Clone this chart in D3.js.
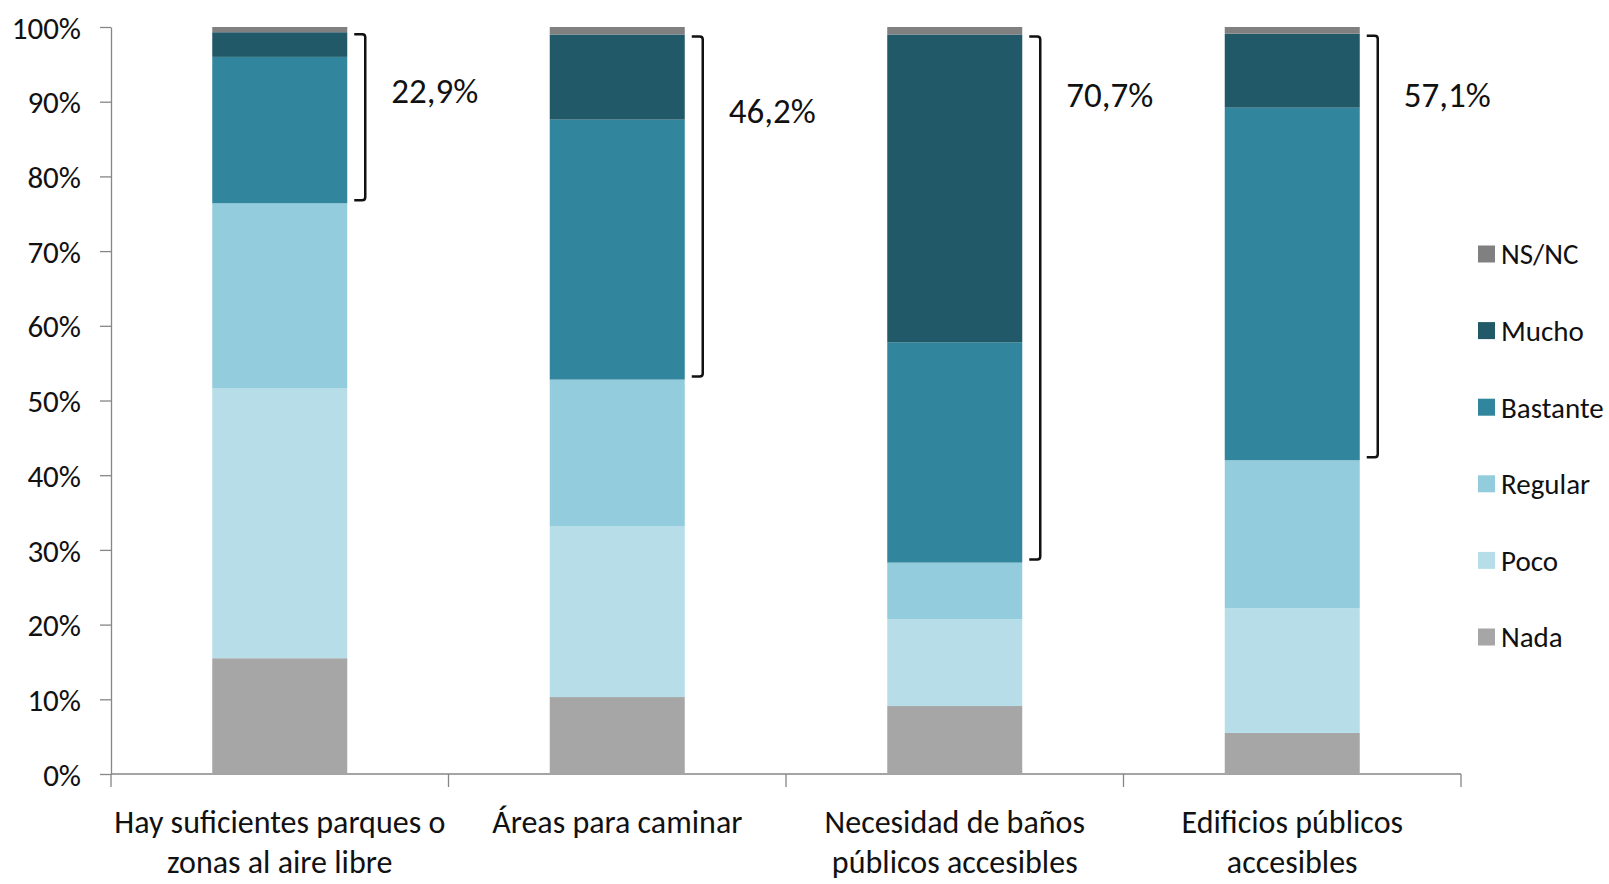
<!DOCTYPE html>
<html>
<head>
<meta charset="utf-8">
<script src="https://cdn.jsdelivr.net/npm/d3@7"></script>
<style>
  body { margin: 0; background: #fff; }
  text { font-family: Carlito, Lato, sans-serif; fill: #111; }
</style>
</head>
<body>
<div id="plot_area"></div>
<script>
// data (percent of answers)
var categories = [
  ["Hay suficientes parques o", "zonas al aire libre"],
  ["Áreas para caminar"],
  ["Necesidad de baños", "públicos accesibles"],
  ["Edificios públicos", "accesibles"]
];
var series = ["Nada", "Poco", "Regular", "Bastante", "Mucho", "NS/NC"];
var nada     = [15.5, 10.3,  9.1,  5.5];
var poco     = [36.1, 22.9, 11.6, 16.7];
var regular  = [24.8, 19.6,  7.6, 19.8];
var bastante = [19.6, 34.8, 29.5, 47.2];
var mucho    = [ 3.3, 11.4, 41.2,  9.9];
var nsnc     = [ 0.7,  1.0,  1.0,  0.9];
var calloutLabels = ["22,9%", "46,2%", "70,7%", "57,1%"];
var yTicks = [0, 10, 20, 30, 40, 50, 60, 70, 80, 90, 100];

var colors = {
  "Nada": "#a6a6a6", "Poco": "#b7dee8", "Regular": "#93cddd",
  "Bastante": "#31859c", "Mucho": "#215968", "NS/NC": "#808080"
};

// build rows for the stack
var rows = categories.map(function(c, i) {
  return { idx: i, "Nada": nada[i], "Poco": poco[i], "Regular": regular[i],
           "Bastante": bastante[i], "Mucho": mucho[i], "NS/NC": nsnc[i] };
});
var stacked = d3.stack().keys(series)(rows);

// set the dimensions and margins of the graph
var margin = {top: 27, right: 148, bottom: 110, left: 111},
    W = 1609, H = 884,
    width = W - margin.left - margin.right,
    height = H - margin.top - margin.bottom;

var svg = d3.select("#plot_area")
  .append("svg")
    .attr("width", W)
    .attr("height", H)
  .append("g")
    .attr("transform", "translate(" + margin.left + "," + margin.top + ")");

var x = d3.scaleBand()
  .domain(d3.range(categories.length))
  .range([0, width])
  .paddingInner(0.6)
  .paddingOuter(0.3);

var y = d3.scaleLinear()
  .domain([0, 100])
  .range([height, 0]);

// Y axis
var yAxis = svg.append("g")
  .call(d3.axisLeft(y).tickValues(yTicks).tickSize(11).tickSizeOuter(0)
    .tickPadding(19).tickFormat(function(d) { return d + "%"; }));
yAxis.selectAll("line, path").attr("stroke", "#868686").attr("stroke-width", 1.3);
yAxis.selectAll("text").style("font-size", "31px").attr("fill", "#111").attr("dy", "0.36em");

// X axis line + category dividers
svg.append("line")
  .attr("x1", 0).attr("x2", width)
  .attr("y1", height).attr("y2", height)
  .attr("stroke", "#868686").attr("stroke-width", 1.3);
var bounds = d3.range(categories.length + 1).map(function(i) { return i * x.step(); });
svg.selectAll(".xtick")
  .data(bounds)
  .enter().append("line")
    .attr("x1", function(d) { return d; })
    .attr("x2", function(d) { return d; })
    .attr("y1", height).attr("y2", height + 13)
    .attr("stroke", "#868686").attr("stroke-width", 1.3);

// category labels
var catText = svg.selectAll(".cat")
  .data(categories)
  .enter().append("text")
    .attr("text-anchor", "middle")
    .attr("x", function(d, i) { return x(i) + x.bandwidth() / 2; })
    .attr("y", height + 59)
    .style("font-size", "32px");
catText.selectAll("tspan")
  .data(function(d, i) { return d.map(function(t) { return {t: t, i: i}; }); })
  .enter().append("tspan")
    .attr("x", function(d) { return x(d.i) + x.bandwidth() / 2; })
    .attr("dy", function(d, j) { return j === 0 ? 0 : 40; })
    .text(function(d) { return d.t; });

// stacked bars
svg.selectAll(".layer")
  .data(stacked)
  .enter().append("g")
    .attr("fill", function(d) { return colors[d.key]; })
  .selectAll("rect")
  .data(function(d) { return d; })
  .enter().append("rect")
    .attr("x", function(d) { return x(d.data.idx); })
    .attr("width", x.bandwidth())
    .attr("y", function(d) { return y(d[1]); })
    .attr("height", function(d) { return y(d[0]) - y(d[1]); });

// brackets for Bastante + Mucho
var calloutDy = [0, 20, 4, 4];
rows.forEach(function(r, i) {
  var lo = r["Nada"] + r["Poco"] + r["Regular"];
  var hi = lo + r["Bastante"] + r["Mucho"];
  var xr = x(i) + x.bandwidth();
  var y0 = y(hi) + 2, y1 = y(lo) - 3;
  var a = xr + 7, b = xr + 18, rr = 3;
  svg.append("path")
    .attr("d", "M" + a + "," + y0 + "H" + (b - rr) + "Q" + b + "," + y0 + " " + b + "," + (y0 + rr) +
               "V" + (y1 - rr) + "Q" + b + "," + y1 + " " + (b - rr) + "," + y1 + "H" + a)
    .attr("fill", "none")
    .attr("stroke", "#111")
    .attr("stroke-width", 2.5);
  svg.append("text")
    .attr("x", b + 26)
    .attr("y", y(91.5) + calloutDy[i])
    .attr("dy", "0.36em")
    .style("font-size", "35px")
    .text(calloutLabels[i]);
});

// legend
var legendOrder = series.slice().reverse();
var legend = svg.selectAll(".legend")
  .data(legendOrder)
  .enter().append("g")
    .attr("transform", function(d, i) {
      return "translate(" + (1478 - margin.left) + "," + (254 - margin.top + i * 76.6) + ")";
    });
legend.append("rect")
  .attr("x", 0).attr("y", -8.5)
  .attr("width", 17).attr("height", 17)
  .attr("fill", function(d) { return colors[d]; });
legend.append("text")
  .attr("x", 23)
  .attr("dy", "0.36em")
  .style("font-size", "29px")
  .text(function(d) { return d; });
</script>
</body>
</html>
